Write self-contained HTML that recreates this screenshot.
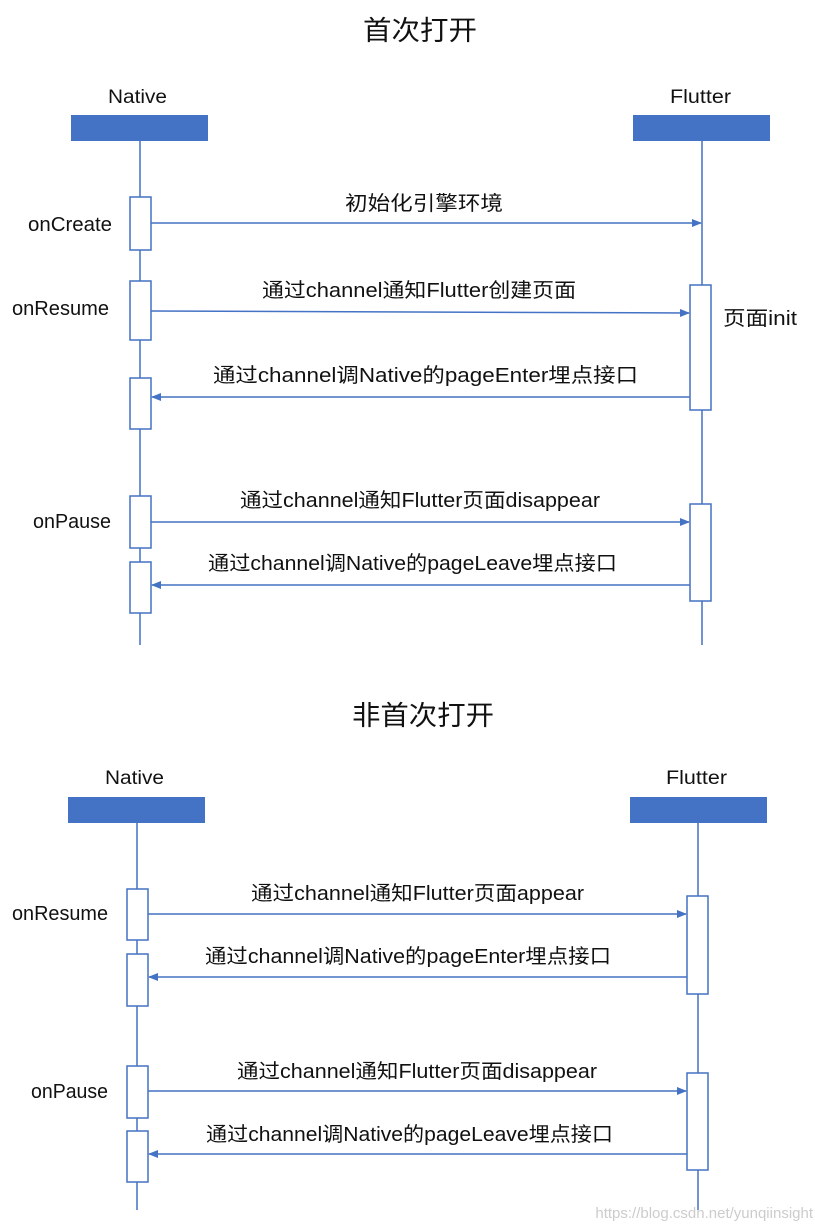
<!DOCTYPE html>
<html><head><meta charset="utf-8"><style>
html,body{margin:0;padding:0;background:#fff;}
svg{display:block;}
text{font-family:"Liberation Sans","Noto Sans CJK SC",sans-serif;fill:#111;}
</style></head><body>
<svg width="815" height="1227" viewBox="0 0 815 1227" xmlns="http://www.w3.org/2000/svg">
<defs>
<marker id="a" markerWidth="10" markerHeight="8" refX="9" refY="4" orient="auto" markerUnits="userSpaceOnUse">
<path d="M0,0 L10,4 L0,8 z" fill="#4472c4"/></marker>
</defs>
<g stroke="#4472c4" stroke-width="1.5" fill="none">
<line x1="140" y1="141" x2="140" y2="645"/>
<line x1="702" y1="141" x2="702" y2="645"/>
<line x1="137" y1="823" x2="137" y2="1210"/>
<line x1="698" y1="823" x2="698" y2="1210"/>
</g>
<rect x="71" y="115" width="137" height="26" fill="#4472c4"/>
<rect x="633" y="115" width="137" height="26" fill="#4472c4"/>
<rect x="68" y="797" width="137" height="26" fill="#4472c4"/>
<rect x="630" y="797" width="137" height="26" fill="#4472c4"/>
<g stroke="#4472c4" stroke-width="1.5" fill="#fff">
<rect x="130" y="197" width="21" height="53"/>
<rect x="130" y="281" width="21" height="59"/>
<rect x="130" y="378" width="21" height="51"/>
<rect x="130" y="496" width="21" height="52"/>
<rect x="130" y="562" width="21" height="51"/>
<rect x="690" y="285" width="21" height="125"/>
<rect x="690" y="504" width="21" height="97"/>
<rect x="127" y="889" width="21" height="51"/>
<rect x="127" y="954" width="21" height="52"/>
<rect x="127" y="1066" width="21" height="52"/>
<rect x="127" y="1131" width="21" height="51"/>
<rect x="687" y="896" width="21" height="98"/>
<rect x="687" y="1073" width="21" height="97"/>
</g>
<g stroke="#4472c4" stroke-width="1.5" fill="none">
<line x1="151" y1="223" x2="701" y2="223" marker-end="url(#a)"/>
<line x1="151" y1="311" x2="689" y2="313" marker-end="url(#a)"/>
<line x1="690" y1="397" x2="152" y2="397" marker-end="url(#a)"/>
<line x1="151" y1="522" x2="689" y2="522" marker-end="url(#a)"/>
<line x1="690" y1="585" x2="152" y2="585" marker-end="url(#a)"/>
<line x1="148" y1="914" x2="686" y2="914" marker-end="url(#a)"/>
<line x1="687" y1="977" x2="149" y2="977" marker-end="url(#a)"/>
<line x1="148" y1="1091" x2="686" y2="1091" marker-end="url(#a)"/>
<line x1="687" y1="1154" x2="149" y2="1154" marker-end="url(#a)"/>
</g>
<g font-size="27">
<text x="363" y="40" textLength="114" lengthAdjust="spacingAndGlyphs">首次打开</text>
<text x="352" y="725" textLength="142" lengthAdjust="spacingAndGlyphs">非首次打开</text>
</g>
<g font-size="19">
<text x="108" y="103" textLength="59" lengthAdjust="spacingAndGlyphs">Native</text>
<text x="670" y="103" textLength="61" lengthAdjust="spacingAndGlyphs">Flutter</text>
<text x="105" y="784" textLength="59" lengthAdjust="spacingAndGlyphs">Native</text>
<text x="666" y="784" textLength="61" lengthAdjust="spacingAndGlyphs">Flutter</text>
</g>
<g font-size="20">
<text x="28" y="231" textLength="84" lengthAdjust="spacingAndGlyphs">onCreate</text>
<text x="12" y="315" textLength="97" lengthAdjust="spacingAndGlyphs">onResume</text>
<text x="33" y="528" textLength="78" lengthAdjust="spacingAndGlyphs">onPause</text>
<text x="12" y="920" textLength="96" lengthAdjust="spacingAndGlyphs">onResume</text>
<text x="31" y="1098" textLength="77" lengthAdjust="spacingAndGlyphs">onPause</text>
<text x="723" y="325" textLength="74" lengthAdjust="spacingAndGlyphs">页面init</text>
<text x="345" y="210" textLength="158" lengthAdjust="spacingAndGlyphs">初始化引擎环境</text>
<text x="262" y="297" textLength="314" lengthAdjust="spacingAndGlyphs">通过channel通知Flutter创建页面</text>
<text x="213" y="382" textLength="425" lengthAdjust="spacingAndGlyphs">通过channel调Native的pageEnter埋点接口</text>
<text x="240" y="507" textLength="360" lengthAdjust="spacingAndGlyphs">通过channel通知Flutter页面disappear</text>
<text x="208" y="570" textLength="409" lengthAdjust="spacingAndGlyphs">通过channel调Native的pageLeave埋点接口</text>
<text x="251" y="900" textLength="333" lengthAdjust="spacingAndGlyphs">通过channel通知Flutter页面appear</text>
<text x="205" y="963" textLength="406" lengthAdjust="spacingAndGlyphs">通过channel调Native的pageEnter埋点接口</text>
<text x="237" y="1078" textLength="360" lengthAdjust="spacingAndGlyphs">通过channel通知Flutter页面disappear</text>
<text x="206" y="1141" textLength="407" lengthAdjust="spacingAndGlyphs">通过channel调Native的pageLeave埋点接口</text>
</g>
<text x="813" y="1218" font-size="15" text-anchor="end" style="fill:#ccc">https://blog.csdn.net/yunqiinsight</text>
</svg>
</body></html>
